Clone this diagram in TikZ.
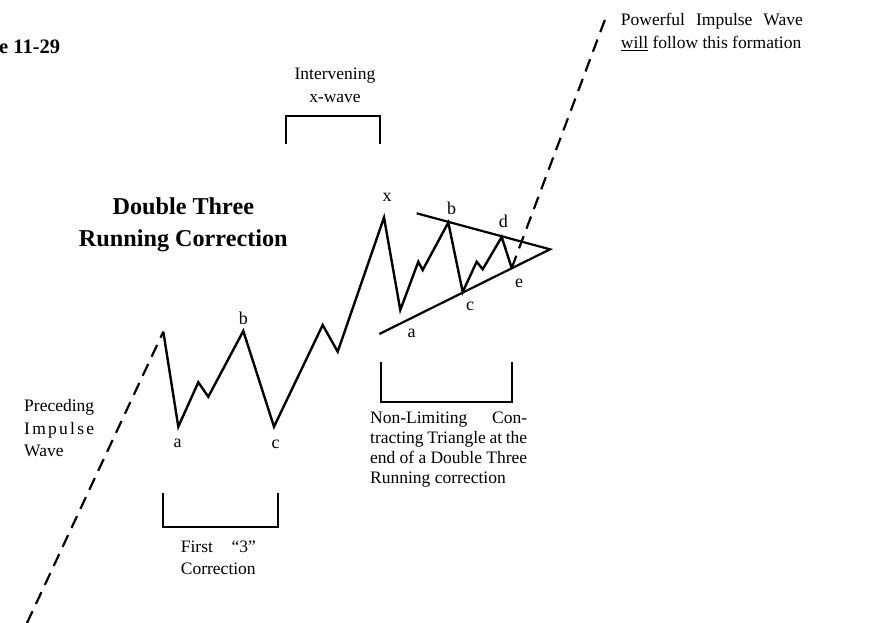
\documentclass[tikz,border=0pt]{standalone}
\usepackage{fontspec}
\setmainfont{Liberation Serif}
\usetikzlibrary{positioning}

\begin{document}
\begin{tikzpicture}[x=1pt,y=-1pt,
  waveline/.style={line width=2.4pt,line join=miter},
  trendline/.style={line width=2.2pt},
  impulseline/.style={line width=2.2pt,dash pattern=on 13pt off 8pt},
  bracketline/.style={line width=2pt},
  wavelabel/.style={inner sep=0pt,font=\fontsize{18}{20}\selectfont},
  wavetext/.style={inner sep=0pt,anchor=north west,align=left,font=\fontsize{17.5}{22}\selectfont}
]
  \useasboundingbox (0,0) rectangle (881,622);

  \coordinate (pstart) at (27,623);
  \coordinate (w0) at (163.3,331.7);
  \coordinate (wa) at (178.3,426.7);
  \coordinate (w1) at (198.3,382.3);
  \coordinate (w2) at (208.3,396.7);
  \coordinate (wb) at (243.3,331);
  \coordinate (wc) at (274,426.7);
  \coordinate (w3) at (322.7,325);
  \coordinate (w4) at (337.7,351.7);
  \coordinate (wx) at (384,217.5);
  \coordinate (ta) at (400.3,310);
  \coordinate (t1) at (418.3,261.7);
  \coordinate (t2) at (422.7,270);
  \coordinate (tb) at (448.3,222.5);
  \coordinate (tc) at (462.7,292);
  \coordinate (t3) at (476.7,261.7);
  \coordinate (t4) at (482.7,269.3);
  \coordinate (td) at (501.7,237);
  \coordinate (te) at (511.7,268);
  \coordinate (pend) at (606.7,15);
  \coordinate (upperstart) at (416.7,213.3);
  \coordinate (lowerstart) at (379.3,334);
  \coordinate (apex) at (550,249.3);

  \draw[impulseline] (pstart) -- (w0);
  \draw[waveline] (w0) -- (wa) -- (w1) -- (w2) -- (wb) -- (wc) -- (w3) -- (w4) -- (wx)
    -- (ta) -- (t1) -- (t2) -- (tb) -- (tc) -- (t3) -- (t4) -- (td) -- (te);
  \draw[impulseline] (te) -- (pend);
  \draw[trendline] (upperstart) -- (apex) -- (lowerstart);

  \node[wavelabel] (lbla) at (177.7,443.3) {a};
  \node[wavelabel] (lblb) at (243.3,318) {b};
  \node[wavelabel] (lblc) at (275.7,444) {c};
  \node[wavelabel] (lblx) at (387,197.5) {x};
  \node[wavelabel] (lbltb) at (451.7,208.3) {b};
  \node[wavelabel] (lbltd) at (503.3,221.7) {d};
  \node[wavelabel] (lbltc) at (470,306) {c};
  \node[wavelabel] (lblte) at (519,283.3) {e};
  \node[wavelabel] (lblta) at (411.7,333.3) {a};

  \draw[bracketline] (286,144) -- (286,116) -- (380,116) -- (380,144);
  \draw[bracketline] (163.3,493.3) -- (163.3,527.3) -- (278.3,527.3) -- (278.3,493.3);
  \draw[bracketline] (380.7,361.7) -- (380.7,401.7) -- (511.7,401.7) -- (511.7,361.7);

  \node[inner sep=0pt,anchor=base west,font=\bfseries\fontsize{20.5}{22}\selectfont] (figno) at (-1,53.5) {e 11-29};
  \node[inner sep=0pt,anchor=north,align=center,font=\bfseries\fontsize{24.2}{31.6}\selectfont] (title) at (183.3,198)
    {Double Three\\Running Correction};
  \node[wavetext,anchor=north,align=center,font=\fontsize{17.5}{22.3}\selectfont] (xwave) at (335,68)
    {Intervening\\x-wave};
  \node[wavetext,font=\fontsize{17.5}{22.7}\selectfont] (nextwave) at (620.7,13)
    {\makebox[182pt][s]{Powerful Impulse Wave}\\\underline{will} follow this formation};
  \node[wavetext,font=\fontsize{17.5}{22.5}\selectfont] (prevwave) at (24,399.5)
    {Preceding\\\makebox[70pt][s]{I\hfill m\hfill p\hfill u\hfill l\hfill s\hfill e}\\Wave};
  \node[wavetext] (firstthree) at (180.7,540.5)
    {\makebox[75pt][s]{First ``3''}\\Correction};
  \node[wavetext,font=\fontsize{17.5}{20}\selectfont] (triangle) at (370,412)
    {\makebox[157pt][s]{Non-Limiting Con-}\\\makebox[157pt][s]{tracting Triangle at the}\\
     \makebox[157pt][s]{end of a Double Three}\\Running correction};
\end{tikzpicture}
\end{document}
